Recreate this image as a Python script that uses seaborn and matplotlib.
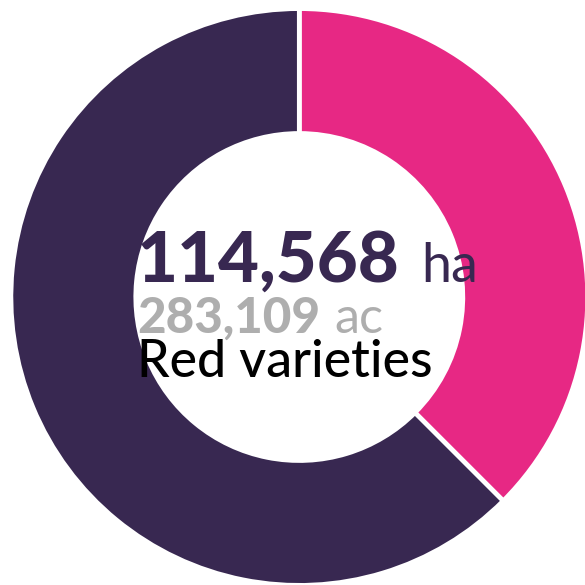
import matplotlib
matplotlib.use("Agg")
import matplotlib.pyplot as plt
import seaborn as sns

sns.set_theme(style="white")
plt.rcParams['font.family'] = ['Lato', 'DejaVu Sans']

labels = ["Other", "Red varieties"]
values = [68741, 114568]
colors = ["#E72884", "#382851"]
main_value = "114,568"
main_unit = "ha"
sub_value = "283,109"
sub_unit = "ac"
caption = "Red varieties"

W = 585
fig = plt.figure(figsize=(5.85, 5.85), dpi=100)
cx, cy, R = 299.3, 297.0, 288.4
ax = fig.add_axes([(cx - R) / W, (W - cy - R) / W, 2 * R / W, 2 * R / W])
ax.pie(values, colors=colors, startangle=90, counterclock=False, radius=1,
       wedgeprops=dict(width=0.433, edgecolor="white", linewidth=3.4))
ax.set_xlim(-1, 1)
ax.set_ylim(-1, 1)
ax.set_axis_off()

renderer = fig.canvas.get_renderer()

def T(x0, x1, y, s, size, **kw):
    t = fig.text(x0 / W, 1 - y / W, s, ha="left", va="baseline", fontsize=size, **kw)
    bb = t.get_window_extent(renderer=renderer)
    t.set_fontsize(size * (x1 - x0) / bb.width)
    return t

T(137, 400, 282, main_value, 60, fontweight="black", color="#382851")
T(421, 478, 282, main_unit, 42, fontweight="normal", color="#382851")
T(137, 320, 333, sub_value, 33, fontweight="black", color="#AEAEAE")
T(334, 383, 333, sub_unit, 30, fontweight="normal", color="#AEAEAE")
T(137, 432, 377, caption, 33, fontweight="medium", color="#000000")

fig.savefig("out.png", dpi=100, facecolor="white")
